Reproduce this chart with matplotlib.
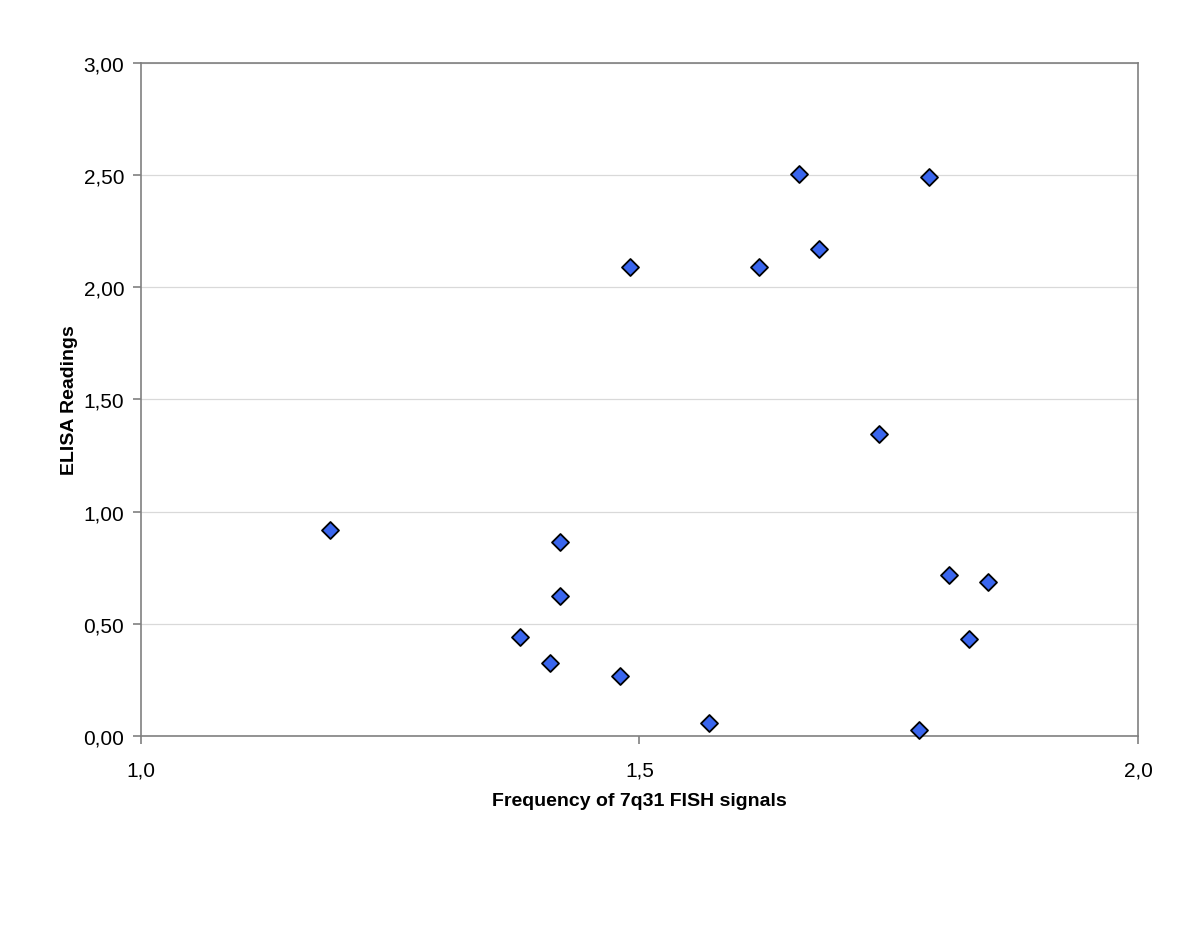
import matplotlib
matplotlib.use("Agg")
from matplotlib import pyplot as plt
from matplotlib.ticker import FuncFormatter

plt.rcParams["font.family"] = ["Liberation Sans", "DejaVu Sans"]

# frequency of 7q31 FISH signals
fish_freq = [1.19, 1.38, 1.41, 1.42, 1.42, 1.48, 1.49, 1.57, 1.62,
             1.66, 1.68, 1.74, 1.78, 1.79, 1.81, 1.83, 1.85]
# ELISA readings
elisa = [0.92, 0.44, 0.325, 0.865, 0.624, 0.267, 2.09, 0.06, 2.09,
         2.505, 2.17, 1.346, 0.027, 2.49, 0.718, 0.432, 0.687]

x_ticks = [1.0, 1.5, 2.0]
y_ticks = [0.0, 0.5, 1.0, 1.5, 2.0, 2.5, 3.0]

fig = plt.figure(figsize=(11.97, 9.29), dpi=100)
ax = fig.add_axes([0.1178, 0.2067, 0.8329, 0.7244])

# grid lines
ax.set_axisbelow(True)
ax.yaxis.grid(True, color="#d9d9d9", linewidth=0.9)

ax.scatter(fish_freq, elisa, marker="D", s=75, facecolor="#3A66EE",
           edgecolor="black", linewidth=1.3, zorder=3, clip_on=False)

ax.set_xlim(1.0, 2.0)
ax.set_ylim(0.0, 3.0)
ax.set_xticks(x_ticks)
ax.set_yticks(y_ticks)
ax.xaxis.set_major_formatter(FuncFormatter(lambda v, p: f"{v:.1f}".replace(".", ",")))
ax.yaxis.set_major_formatter(FuncFormatter(lambda v, p: f"{v:.2f}".replace(".", ",")))

for side in ax.spines.values():
    side.set_color("#808080")
    side.set_linewidth(1.2)

ax.tick_params(direction="out", length=6, width=1.2, color="#808080",
               labelsize=15)
ax.tick_params(axis="y", pad=6)
ax.tick_params(axis="x", pad=12)

ax.set_xlabel("Frequency of 7q31 FISH signals", fontsize=14, fontweight="bold", labelpad=9)
ax.set_ylabel("ELISA Readings", fontsize=14, fontweight="bold", labelpad=4)

fig.savefig("out.png", dpi=100)
